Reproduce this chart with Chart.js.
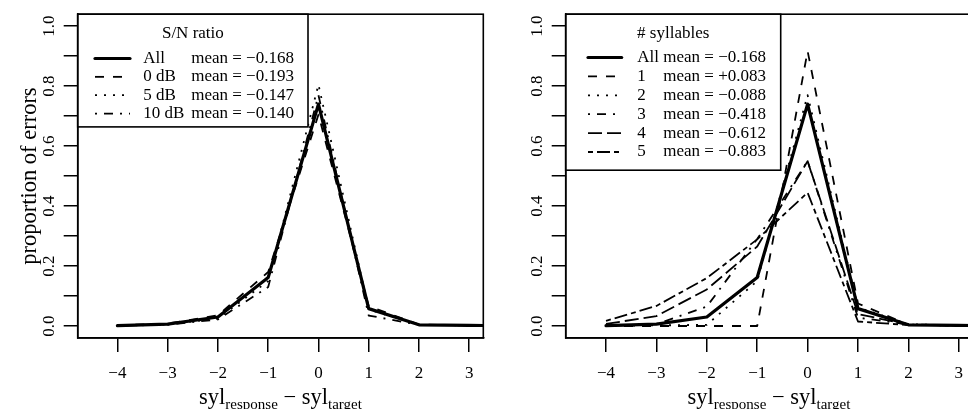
<!DOCTYPE html>
<html>
<head>
<meta charset="utf-8">
<script src="https://cdn.jsdelivr.net/npm/chart.js@4.4.1/dist/chart.umd.min.js"></script>
<style>
  html, body { margin: 0; padding: 0; background: #fff; }
  body { width: 968px; height: 409px; overflow: hidden; position: relative;
         font-family: 'Liberation Serif', 'Times New Roman', serif; color: #000; }
  canvas { position: absolute; top: 0; }
  #snrChart { left: 0; }
  #sylChart { left: 490px; }
  .xt { position: absolute; top: 385.6px; font-size: 22.5px; line-height: 22px;
        white-space: nowrap; transform: translateX(-50%); }
  .xt sub { font-size: 15px; vertical-align: -4.5px; line-height: 0; }
</style>
</head>
<body>
<canvas id="snrChart" width="492" height="409"></canvas>
<canvas id="sylChart" width="490" height="409"></canvas>
<div class="xt" style="left:280.5px">syl<sub>response</sub> − syl<sub>target</sub></div>
<div class="xt" style="left:769px">syl<sub>response</sub> − syl<sub>target</sub></div>
<script>
'use strict';

// ── data ────────────────────────────────────────────────────────────────
const X_VALUES     = [-4, -3, -2, -1, 0, 1, 2, 3, 4];
const X_TICKS      = [-4, -3, -2, -1, 0, 1, 2, 3];
const X_TICK_TEXT  = ['−4', '−3', '−2', '−1', '0', '1', '2', '3'];
const Y_TICK_TEXT  = ['0.0', '', '0.2', '', '0.4', '', '0.6', '', '0.8', '', '1.0'];
const Y_TITLE      = 'proportion of errors';

// left panel: S/N ratio
const SNR_TITLE = 'S/N ratio';
const SNR_NAMES = ['All', '0 dB', '5 dB', '10 dB'];
const SNR_MEANS = ['−0.168', '−0.193', '−0.147', '−0.140'];
const SNR_ALL   = [0.001, 0.006, 0.030, 0.162, 0.740, 0.058, 0.004, 0.002, 0.001];
const SNR_0DB   = [0.002, 0.008, 0.036, 0.180, 0.705, 0.066, 0.005, 0.002, 0.001];
const SNR_5DB   = [0.001, 0.005, 0.025, 0.150, 0.805, 0.055, 0.004, 0.002, 0.001];
const SNR_10DB  = [0.001, 0.004, 0.022, 0.130, 0.770, 0.035, 0.004, 0.002, 0.001];

// right panel: number of syllables
const SYL_TITLE = '# syllables';
const SYL_NAMES = ['All', '1', '2', '3', '4', '5'];
const SYL_MEANS = ['−0.168', '+0.083', '−0.088', '−0.418', '−0.612', '−0.883'];
const SYL_ALL   = [0.001, 0.006, 0.030, 0.162, 0.740, 0.058, 0.004, 0.002, 0.001];
const SYL_1     = [0.000, 0.000, 0.000, 0.000, 0.917, 0.075, 0.004, 0.001, 0.001];
const SYL_2     = [0.000, 0.002, 0.004, 0.150, 0.770, 0.062, 0.006, 0.002, 0.001];
const SYL_3     = [0.000, 0.006, 0.065, 0.290, 0.550, 0.028, 0.005, 0.002, 0.001];
const SYL_4     = [0.007, 0.033, 0.122, 0.265, 0.550, 0.040, 0.004, 0.002, 0.001];
const SYL_5     = [0.017, 0.067, 0.160, 0.289, 0.445, 0.015, 0.003, 0.002, 0.001];

// ── styles (R line types) ──────────────────────────────────────────────
const SERIF = "'Liberation Serif', 'Times New Roman', serif";
const LTY = {
  solid:    { dash: [],            width: 3.2 },
  dashed:   { dash: [9, 9],        width: 1.8 },
  dotted:   { dash: [2, 7],        width: 1.8 },
  dotdash:  { dash: [2, 7, 9, 7],  width: 1.8 },
  longdash: { dash: [14, 5],       width: 1.8 },
  twodash:  { dash: [5, 4, 13, 4], width: 1.8 },
};

function dataset(label, values, lty) {
  return {
    label,
    data: X_VALUES.map((x, i) => ({ x, y: values[i] })),
    borderColor: '#000',
    borderWidth: LTY[lty].width,
    borderDash: LTY[lty].dash,
    borderCapStyle: lty === 'solid' ? 'round' : 'butt',
    borderJoinStyle: 'round',
    pointRadius: 0,
    tension: 0,
    fill: false,
  };
}

// plot frame (R's box())
const boxPlugin = {
  id: 'rbox',
  afterDraw(chart) {
    const { ctx, chartArea: a } = chart;
    ctx.save();
    ctx.strokeStyle = '#000';
    ctx.lineWidth = 1.6;
    ctx.strokeRect(a.left, a.top, a.right - a.left, a.bottom - a.top);
    ctx.restore();
  }
};

// R-style legend with title, drawn in the top-left corner of the plot
const legendPlugin = {
  id: 'rlegend',
  afterDatasetsDraw(chart, args, o) {
    const { ctx, chartArea: a } = chart;
    const L = a.left, T = a.top;
    ctx.save();
    ctx.fillStyle = '#fff';
    ctx.fillRect(L, T, o.boxW, o.boxH);
    ctx.strokeStyle = '#000';
    ctx.lineWidth = 1.6;
    ctx.strokeRect(L, T, o.boxW, o.boxH);

    ctx.fillStyle = '#000';
    ctx.font = `17px ${SERIF}`;
    ctx.textBaseline = 'middle';
    ctx.textAlign = 'center';
    ctx.fillText(o.title, L + o.boxW / 2, T + o.titleY);

    ctx.textAlign = 'left';
    chart.data.datasets.forEach((ds, i) => {
      const y = T + o.firstRowY + i * o.rowStep;
      ctx.save();
      ctx.strokeStyle = '#000';
      ctx.lineWidth = ds.borderWidth;
      ctx.lineCap = ds.borderCapStyle;
      ctx.setLineDash(ds.borderDash);
      ctx.beginPath();
      ctx.moveTo(L + o.sampleX0, y);
      ctx.lineTo(L + o.sampleX1, y);
      ctx.stroke();
      ctx.restore();
      ctx.fillText(o.names[i], L + o.textX, y);
      ctx.fillText('mean = ' + o.means[i], L + o.meanX, y);
    });
    ctx.restore();
  }
};

function tickFont() { return { family: SERIF, size: 17 }; }

function makeChart(id, datasets, yWidth, showYTitle, xMin, xMax, padRight, legend) {
  return new Chart(document.getElementById(id), {
    type: 'line',
    data: { datasets },
    options: {
      responsive: false,
      animation: false,
      layout: { padding: { left: 0, top: 14, right: padRight, bottom: 0 } },
      scales: {
        x: {
          type: 'linear', min: xMin, max: xMax,
          afterFit: s => { s.height = 71; },
          afterBuildTicks: s => { s.ticks = X_TICKS.map(v => ({ value: v })); },
          ticks: {
            color: '#000', font: tickFont(), padding: 11, autoSkip: false,
            maxRotation: 0,
            callback: v => X_TICK_TEXT[X_TICKS.indexOf(v)] ?? '',
          },
          grid: { drawOnChartArea: false, drawTicks: true, tickLength: 14, color: '#000', lineWidth: 1.5 },
          border: { display: true, color: '#000', width: 1.6 },
        },
        y: {
          type: 'linear', min: -0.04, max: 1.04,
          afterFit: s => { s.width = yWidth; },
          afterBuildTicks: s => { s.ticks = Y_TICK_TEXT.map((_, i) => ({ value: i / 10 })); },
          ticks: {
            color: '#000', font: tickFont(), padding: 4, autoSkip: false,
            minRotation: 90, maxRotation: 90, crossAlign: 'center',
            callback: (v, i) => Y_TICK_TEXT[i],
          },
          grid: { drawOnChartArea: false, drawTicks: true, tickLength: 14, color: '#000', lineWidth: 1.5 },
          border: { display: true, color: '#000', width: 1.6 },
          title: {
            display: showYTitle, text: Y_TITLE, color: '#000',
            font: { family: SERIF, size: 22.5 }, padding: { top: 17, bottom: 0 },
          },
        },
      },
      plugins: {
        legend: { display: false },
        tooltip: { enabled: false },
        rlegend: legend,
      },
    },
    plugins: [legendPlugin, boxPlugin],
  });
}

makeChart('snrChart', [
  dataset(SNR_NAMES[0], SNR_ALL,  'solid'),
  dataset(SNR_NAMES[1], SNR_0DB,  'dashed'),
  dataset(SNR_NAMES[2], SNR_5DB,  'dotted'),
  dataset(SNR_NAMES[3], SNR_10DB, 'dotdash'),
], 77.7, true, -4.79, 3.28, 8.7, {
  title: SNR_TITLE, names: SNR_NAMES, means: SNR_MEANS,
  boxW: 230.3, boxH: 112.7, titleY: 19, firstRowY: 44.3, rowStep: 18.35,
  sampleX0: 17.3, sampleX1: 52.3, textX: 65.6, meanX: 113.5,
});

makeChart('sylChart', [
  dataset(SYL_NAMES[0], SYL_ALL, 'solid'),
  dataset(SYL_NAMES[1], SYL_1,   'dashed'),
  dataset(SYL_NAMES[2], SYL_2,   'dotted'),
  dataset(SYL_NAMES[3], SYL_3,   'dotdash'),
  dataset(SYL_NAMES[4], SYL_4,   'longdash'),
  dataset(SYL_NAMES[5], SYL_5,   'twodash'),
], 75.7, false, -4.8, 3.28, 7.1, {
  title: SYL_TITLE, names: SYL_NAMES, means: SYL_MEANS,
  boxW: 215, boxH: 156, titleY: 19, firstRowY: 43.3, rowStep: 18.9,
  sampleX0: 22.3, sampleX1: 56, textX: 71.6, meanX: 97.6,
});
</script>
</body>
</html>
